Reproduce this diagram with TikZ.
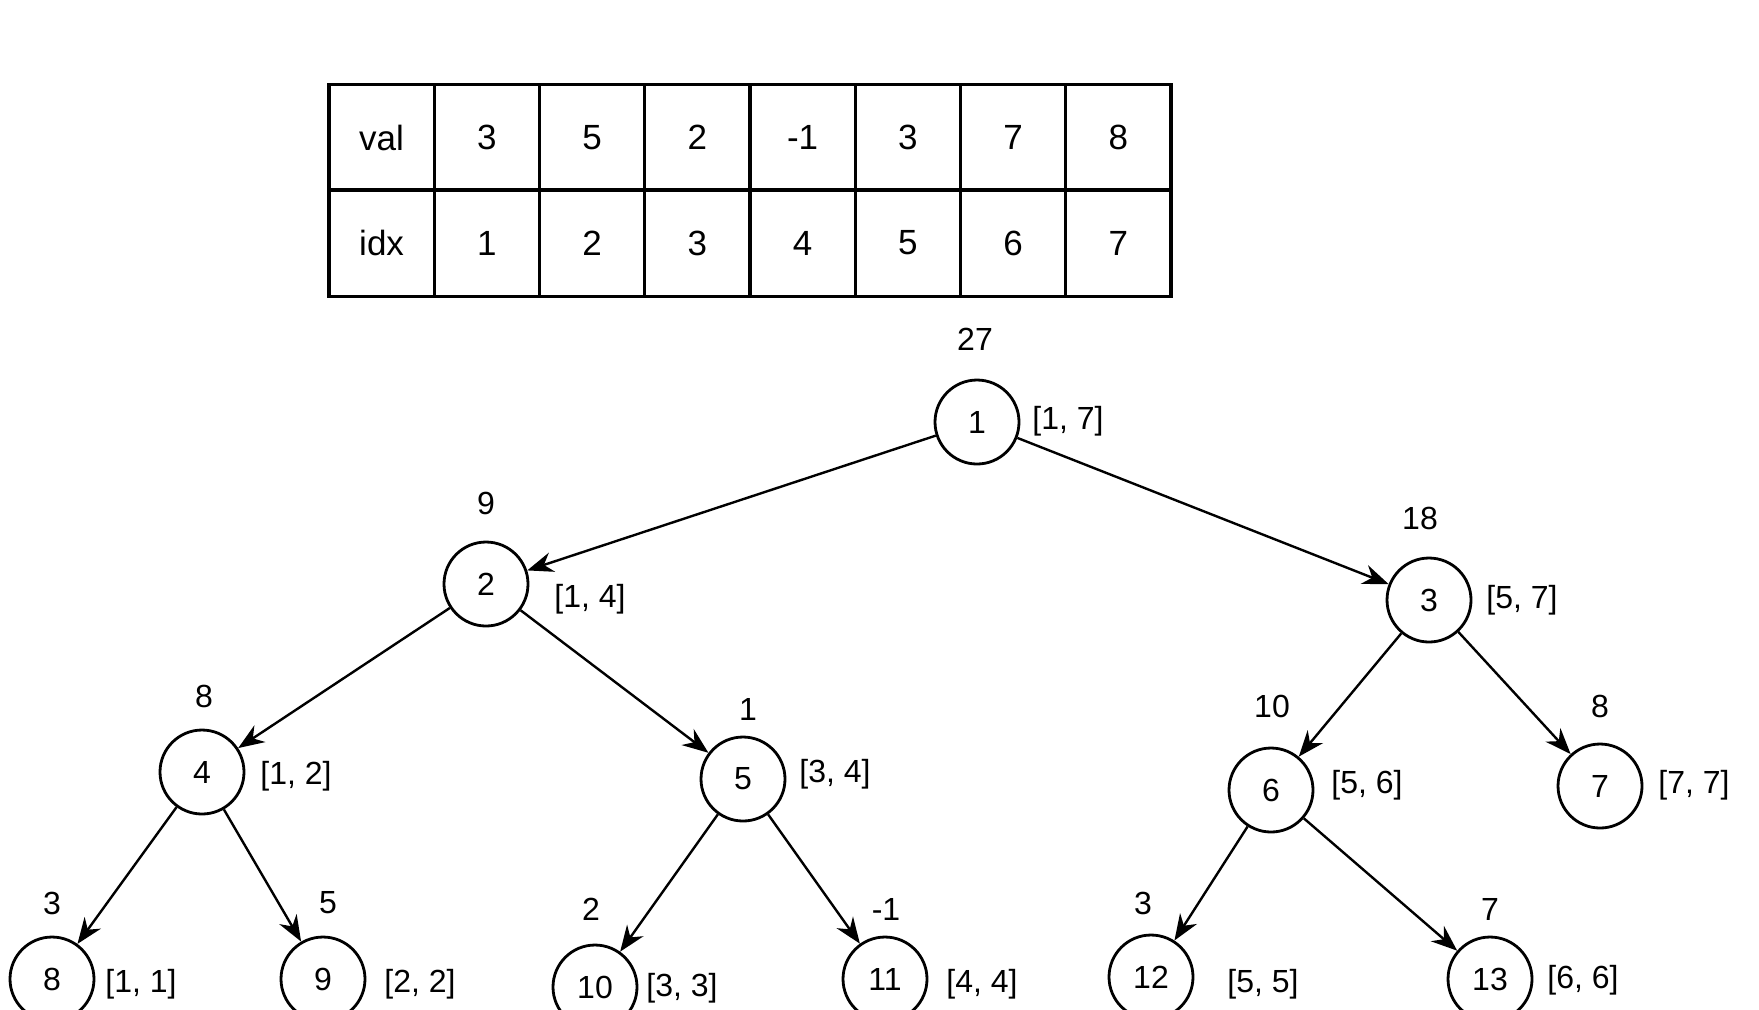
\documentclass[tikz,border=0pt]{standalone}
\usepackage{fontspec}
\setmainfont{Liberation Sans}
\usetikzlibrary{arrows.meta, positioning}

\begin{document}
\begin{tikzpicture}[
    x=0.5pt, y=-0.5pt,
    cell/.style={draw, line width=1.6pt, minimum width=52.6pt,
                 minimum height=53.3pt, inner sep=0pt,
                 font=\fontsize{17.5}{20}\selectfont},
    tnode/.style={draw, circle, line width=1.4pt, minimum size=42pt,
                  inner sep=0pt, font=\fontsize{16}{18}\selectfont},
    sumlbl/.style={inner sep=0pt, font=\fontsize{16}{18}\selectfont},
    rangelbl/.style={inner sep=0pt, font=\fontsize{16}{18}\selectfont},
    edge/.style={-{Stealth[length=13pt, width=10pt]}, line width=1.2pt}
]
\path[use as bounding box, clip] (0,0) rectangle (1759,1009);

% Array table
\node[cell] (v0) at (381.6,137.5) {val};
\node[cell] (i0) at (381.6,243)   {idx};
\foreach \v [count=\k] in {3,5,2,-1,3,7,8} {
  \node[cell] (v\k) at (381.6+105.25*\k,137.5) {\v};
  \node[cell] (i\k) at (381.6+105.25*\k,243)   {\k};
}

% Segment tree nodes
\node[tnode] (n1)  at (977,422)  {1};
\node[tnode] (n2)  at (486,584)  {2};
\node[tnode] (n3)  at (1429,600) {3};
\node[tnode] (n4)  at (202,772)  {4};
\node[tnode] (n5)  at (743,779)  {5};
\node[tnode] (n6)  at (1271,790) {6};
\node[tnode] (n7)  at (1600,786) {7};
\node[tnode] (n8)  at (52,979)   {8};
\node[tnode] (n9)  at (323,979)  {9};
\node[tnode] (n10) at (595,987)  {10};
\node[tnode] (n11) at (885,979)  {11};
\node[tnode] (n12) at (1151,977) {12};
\node[tnode] (n13) at (1490,979) {13};

% Sums
\node[sumlbl] (s1)  at (975,339)  {27};
\node[sumlbl] (s2)  at (486,503)  {9};
\node[sumlbl] (s3)  at (1420,518) {18};
\node[sumlbl] (s4)  at (204,696)  {8};
\node[sumlbl] (s5)  at (748,709)  {1};
\node[sumlbl] (s6)  at (1272,706) {10};
\node[sumlbl] (s7)  at (1600,706) {8};
\node[sumlbl] (s8)  at (52,903)   {3};
\node[sumlbl] (s9)  at (328,903)  {5};
\node[sumlbl] (s10) at (591,909)  {2};
\node[sumlbl] (s11) at (886,909)  {-1};
\node[sumlbl] (s12) at (1143,903) {3};
\node[sumlbl] (s13) at (1490,909) {7};

% Ranges
\node[rangelbl] (r1)  at (1068,421) {[1, 7]};
\node[rangelbl] (r2)  at (590,599)  {[1, 4]};
\node[rangelbl] (r3)  at (1522,600) {[5, 7]};
\node[rangelbl] (r4)  at (296,776)  {[1, 2]};
\node[rangelbl] (r5)  at (835,774)  {[3, 4]};
\node[rangelbl] (r6)  at (1367,785) {[5, 6]};
\node[rangelbl] (r7)  at (1694,785) {[7, 7]};
\node[rangelbl] (r8)  at (141,984)  {[1, 1]};
\node[rangelbl] (r9)  at (420,984)  {[2, 2]};
\node[rangelbl] (r10) at (682,988)  {[3, 3]};
\node[rangelbl] (r11) at (982,984)  {[4, 4]};
\node[rangelbl] (r12) at (1263,984) {[5, 5]};
\node[rangelbl] (r13) at (1583,980) {[6, 6]};

% Edges
\draw[edge] (n1) -- (n2);
\draw[edge] (n1) -- (n3);
\draw[edge] (n2) -- (n4);
\draw[edge] (n2) -- (n5);
\draw[edge] (n3) -- (n6);
\draw[edge] (n3) -- (n7);
\draw[edge] (n4) -- (n8);
\draw[edge] (n4) -- (n9);
\draw[edge] (n5) -- (n10);
\draw[edge] (n5) -- (n11);
\draw[edge] (n6) -- (n12);
\draw[edge] (n6) -- (n13);
\end{tikzpicture}
\end{document}
